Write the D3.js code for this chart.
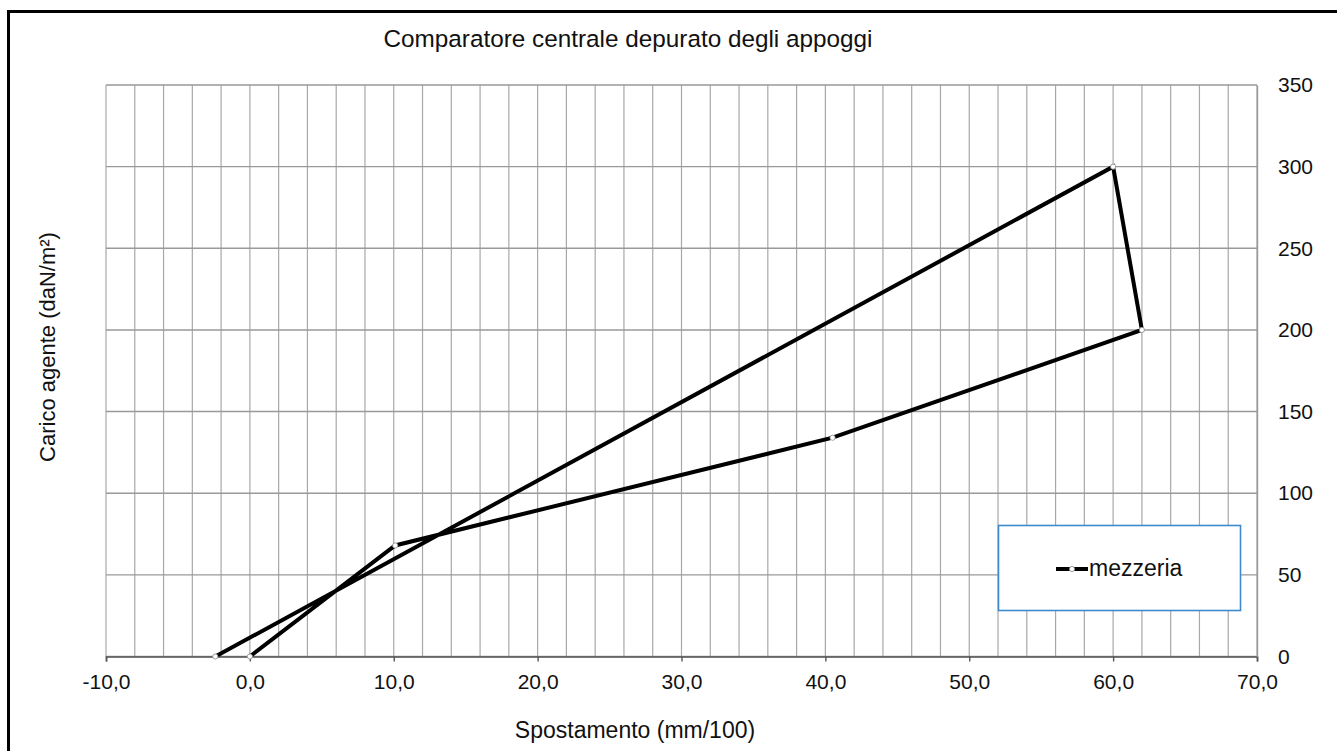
<!DOCTYPE html>
<html>
<head>
<meta charset="utf-8">
<script src="https://cdn.jsdelivr.net/npm/d3@7"></script>
<style>
  html, body { margin: 0; padding: 0; background: #fff; }
  svg { display: block; font-family: "Liberation Sans", Arial, sans-serif; }
</style>
</head>
<body>
<svg id="chart" width="1337" height="751"></svg>
<script>
// Displacement (mm/100) and applied load (daN/m²) at the mid-span gauge
const spostamento = [0, 10.1, 40.5, 62.0, 60.0, -2.4];
const carico = [0, 68, 134, 200, 300, 0];
const seriesName = "mezzeria";

const xTicks = [-10, 0, 10, 20, 30, 40, 50, 60, 70];
const yTicks = [0, 50, 100, 150, 200, 250, 300, 350];
const xGrid = d3.range(-10, 70.001, 2);

const titleText = "Comparatore centrale depurato degli appoggi";
const xTitle = "Spostamento (mm/100)";
const yTitle = "Carico agente (daN/m²)";

const svg = d3.select("#chart");
const W = 1337, H = 751;
const plot = { left: 106, right: 1257, top: 85, bottom: 656.5 };
const FONT = "Liberation Sans, Arial, sans-serif";

const x = d3.scaleLinear().domain([-10, 70]).range([plot.left, plot.right]);
const y = d3.scaleLinear().domain([0, 350]).range([plot.bottom, plot.top]);

// outer frame
svg.append("rect")
  .attr("x", 8.5).attr("y", 11.5)
  .attr("width", W + 20).attr("height", H + 20)
  .attr("fill", "#fff").attr("stroke", "#000").attr("stroke-width", 3);

// title
svg.append("text")
  .attr("x", 628).attr("y", 47)
  .attr("text-anchor", "middle")
  .attr("font-size", 24.3)
  .attr("fill", "#111")
  .text(titleText);

// vertical grid every 2 units
svg.append("g").selectAll("line").data(xGrid).join("line")
  .attr("x1", d => x(d)).attr("x2", d => x(d))
  .attr("y1", plot.top).attr("y2", plot.bottom)
  .attr("stroke", "#a8a8a8").attr("stroke-width", 1.2);

// horizontal grid every 50
svg.append("g").selectAll("line").data(yTicks).join("line")
  .attr("x1", plot.left).attr("x2", plot.right)
  .attr("y1", d => y(d)).attr("y2", d => y(d))
  .attr("stroke", "#999").attr("stroke-width", 1.4);

// x axis along the bottom
const fmtX = d => d3.format(".1f")(d).replace(".", ",").replace("\u2212", "-");
const xAxis = svg.append("g")
  .attr("transform", `translate(0,${plot.bottom})`)
  .call(d3.axisBottom(x).tickValues(xTicks).tickSize(5).tickPadding(13)
    .tickFormat(fmtX));
xAxis.select(".domain").attr("stroke", "#555").attr("stroke-width", 1.6);
xAxis.selectAll(".tick line").attr("stroke", "#555").attr("stroke-width", 1.4);
xAxis.selectAll("text")
  .attr("font-size", 21).attr("fill", "#111")
  .attr("font-family", FONT);

// y axis on the right side
const yAxis = svg.append("g")
  .attr("transform", `translate(${plot.right},0)`)
  .call(d3.axisRight(y).tickValues(yTicks).tickSize(0).tickPadding(21));
yAxis.select(".domain").attr("stroke", "#999").attr("stroke-width", 1.4);
yAxis.selectAll("text")
  .attr("font-size", 21).attr("fill", "#111")
  .attr("font-family", FONT);

// axis titles
svg.append("text")
  .attr("x", 635).attr("y", 738)
  .attr("text-anchor", "middle")
  .attr("font-size", 23).attr("fill", "#111")
  .text(xTitle);

svg.append("text")
  .attr("transform", "translate(55,347) rotate(-90)")
  .attr("text-anchor", "middle")
  .attr("font-size", 22).attr("fill", "#111")
  .text(yTitle);

// data line
const pts = spostamento.map((v, i) => [v, carico[i]]);
const line = d3.line().x(d => x(d[0])).y(d => y(d[1]));
svg.append("path")
  .datum(pts)
  .attr("d", line)
  .attr("fill", "none")
  .attr("stroke", "#000")
  .attr("stroke-width", 4)
  .attr("stroke-linejoin", "miter");

svg.append("g").selectAll("circle").data(pts).join("circle")
  .attr("cx", d => x(d[0])).attr("cy", d => y(d[1]))
  .attr("r", 2.6)
  .attr("fill", "#fff").attr("stroke", "#888").attr("stroke-width", 0.8);

// legend
const lg = svg.append("g");
lg.append("rect")
  .attr("x", 998.5).attr("y", 525.5)
  .attr("width", 242).attr("height", 85)
  .attr("fill", "#fff").attr("stroke", "#3d8ad0").attr("stroke-width", 1.6);
lg.append("line")
  .attr("x1", 1056).attr("x2", 1088)
  .attr("y1", 569).attr("y2", 569)
  .attr("stroke", "#000").attr("stroke-width", 4);
lg.append("circle")
  .attr("cx", 1072).attr("cy", 569).attr("r", 2.6)
  .attr("fill", "#fff").attr("stroke", "#888").attr("stroke-width", 0.8);
lg.append("text")
  .attr("x", 1089).attr("y", 576)
  .attr("font-size", 23).attr("fill", "#111")
  .text(seriesName);
</script>
</body>
</html>
